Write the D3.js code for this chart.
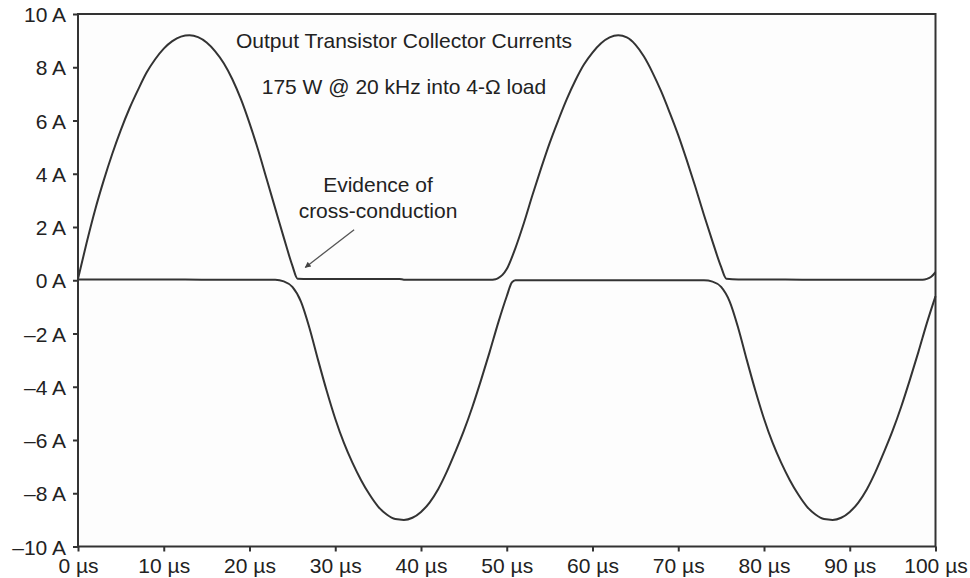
<!DOCTYPE html>
<html>
<head>
<meta charset="utf-8">
<script src="https://cdn.jsdelivr.net/npm/d3@7"></script>
<style>
  html, body { margin: 0; padding: 0; background: #ffffff; }
  svg { display: block; }
  text { font-family: "Liberation Sans", Arial, Helvetica, sans-serif; fill: #222; }
</style>
</head>
<body>
<svg id="chart" width="970" height="578"></svg>
<script>
// ---- Data ----
const xTickValues = [0, 10, 20, 30, 40, 50, 60, 70, 80, 90, 100];
const xTickLabels = ["0 µs", "10 µs", "20 µs", "30 µs", "40 µs", "50 µs", "60 µs", "70 µs", "80 µs", "90 µs", "100 µs"];
const yTickValues = [-10, -8, -6, -4, -2, 0, 2, 4, 6, 8, 10];
const yTickLabels = ["–10 A", "–8 A", "–6 A", "–4 A", "–2 A", "0 A", "2 A", "4 A", "6 A", "8 A", "10 A"];

// Upper transistor collector current (A) vs time (µs)
const upperTime = [0, 1, 2, 3, 4, 5, 6, 7, 8, 9, 10, 11, 12, 13, 14, 15, 16, 17, 18, 19, 20, 21, 22, 23, 24, 25, 25.6,
  27, 30, 35, 37.5, 38, 42, 45, 48, 48.7, 49, 49.5, 50, 51, 52, 53, 54, 55, 56, 57, 58, 59, 60, 61, 62, 63,
  64, 65, 66, 67, 68, 69, 70, 71, 72, 73, 74, 75, 75.6, 77, 80, 85, 90, 95, 98.5, 99, 99.5, 100];
const upperCurrent = [0.05, 1.4, 2.65, 3.75, 4.75, 5.65, 6.45, 7.15, 7.8, 8.3, 8.7, 8.98, 9.15, 9.2, 9.13, 8.93, 8.6, 8.15, 7.55, 6.8, 5.9, 4.9, 3.8, 2.7, 1.6, 0.55, 0.06,
  0.05, 0.05, 0.05, 0.05, 0.02, 0.02, 0.02, 0.02, 0.04, 0.08, 0.2, 0.42, 1.2, 2.15, 3.2, 4.2, 5.15, 6.0, 6.8, 7.5, 8.1, 8.55, 8.9, 9.12, 9.2,
  9.12, 8.85, 8.4, 7.8, 7.1, 6.3, 5.45, 4.5, 3.5, 2.45, 1.45, 0.5, 0.06, 0.03, 0.03, 0.02, 0.02, 0.02, 0.02, 0.05, 0.13, 0.3];

// Lower transistor collector current (A) vs time (µs)
const lowerTime = [0, 5, 10, 15, 20, 23, 24, 25, 26, 27, 28, 29, 30, 31, 32, 33, 34, 35, 36, 37, 38, 39, 40, 41, 42, 43, 44, 45, 46, 47, 48, 49, 50, 50.6,
  51, 55, 60, 65, 70, 73, 74, 75, 76, 77, 78, 79, 80, 81, 82, 83, 84, 85, 86, 87, 88, 89, 90, 91, 92, 93, 94, 95, 96, 97, 98, 99, 100];
const lowerCurrent = [0.03, 0.03, 0.03, 0.02, 0.02, 0.02, -0.04, -0.25, -0.8, -1.8, -3.0, -4.15, -5.2, -6.1, -6.85, -7.5, -8.05, -8.5, -8.8, -8.97, -9.0, -8.92, -8.7, -8.35, -7.85, -7.2, -6.45, -5.65, -4.75, -3.75, -2.7, -1.6, -0.6, -0.08,
  0.0, 0.0, 0.0, 0.0, 0.0, 0.0, -0.05, -0.25, -0.8, -1.8, -3.0, -4.15, -5.2, -6.1, -6.85, -7.5, -8.05, -8.5, -8.8, -8.97, -9.0, -8.92, -8.7, -8.35, -7.85, -7.2, -6.45, -5.65, -4.75, -3.75, -2.7, -1.6, -0.6];

const titleLines = ["Output Transistor Collector Currents", "175 W @ 20 kHz into 4-Ω load"];
const noteLines = ["Evidence of", "cross-conduction"];
// annotation arrow: from (µs, A) to (µs, A)
const arrowFrom = [32.2, 1.9];
const arrowTo = [26.5, 0.48];

// ---- Drawing ----
const svg = d3.select("#chart");
const mLeft = 78, mRight = 935.5, mTop = 14, mBottom = 546.5;
const x = d3.scaleLinear().domain([0, 100]).range([mLeft, mRight]);
const y = d3.scaleLinear().domain([-10, 10]).range([mBottom, mTop]);

svg.append("rect").attr("x", mLeft).attr("y", mTop)
  .attr("width", mRight - mLeft).attr("height", mBottom - mTop)
  .attr("fill", "#fdfdfd");

const line = d3.line().x(d => x(d[0])).y(d => y(d[1])).curve(d3.curveMonotoneX);

const upper = upperTime.map((t, i) => [t, upperCurrent[i]]);
const lower = lowerTime.map((t, i) => [t, lowerCurrent[i]]);

svg.append("path").datum(lower).attr("d", line)
  .attr("fill", "none").attr("stroke", "#333").attr("stroke-width", 2).attr("stroke-linejoin", "round");
svg.append("path").datum(upper).attr("d", line)
  .attr("fill", "none").attr("stroke", "#333").attr("stroke-width", 2).attr("stroke-linejoin", "round");

// frame
svg.append("rect").attr("x", mLeft).attr("y", mTop)
  .attr("width", mRight - mLeft).attr("height", mBottom - mTop)
  .attr("fill", "none").attr("stroke", "#333").attr("stroke-width", 2);

const xAxis = d3.axisBottom(x).tickValues(xTickValues)
  .tickFormat((d, i) => xTickLabels[i]).tickSize(5).tickSizeOuter(0).tickPadding(7);
const gx = svg.append("g").attr("transform", `translate(0,${mBottom})`).call(xAxis);
gx.select(".domain").remove();
gx.selectAll("line").attr("stroke", "#333").attr("stroke-width", 2);
gx.selectAll("text").attr("font-size", 21).attr("fill", "#222")
  .attr("font-family", '"Liberation Sans", Arial, sans-serif');

const yAxis = d3.axisLeft(y).tickValues(yTickValues)
  .tickFormat((d, i) => yTickLabels[i]).tickSize(5).tickSizeOuter(0).tickPadding(7);
const gy = svg.append("g").attr("transform", `translate(${mLeft},0)`).call(yAxis);
gy.select(".domain").remove();
gy.selectAll("line").attr("stroke", "#333").attr("stroke-width", 2);
gy.selectAll("text").attr("font-size", 21).attr("fill", "#222").attr("dy", "0.36em")
  .attr("font-family", '"Liberation Sans", Arial, sans-serif');

// title annotations
svg.append("text").attr("x", 404).attr("y", 48).attr("text-anchor", "middle")
  .attr("font-size", 21).text(titleLines[0]);
svg.append("text").attr("x", 404).attr("y", 94).attr("text-anchor", "middle")
  .attr("font-size", 21).text(titleLines[1]);

svg.append("text").attr("x", 378).attr("y", 192).attr("text-anchor", "middle")
  .attr("font-size", 21).text(noteLines[0]);
svg.append("text").attr("x", 378).attr("y", 218).attr("text-anchor", "middle")
  .attr("font-size", 21).text(noteLines[1]);

// arrow
svg.append("defs").append("marker").attr("id", "ah")
  .attr("viewBox", "0 0 10 10").attr("refX", 9).attr("refY", 5)
  .attr("markerWidth", 10).attr("markerHeight", 6).attr("markerUnits", "userSpaceOnUse")
  .attr("orient", "auto")
  .append("path").attr("d", "M0,0 L10,5 L0,10 Z").attr("fill", "#444");
svg.append("line")
  .attr("x1", x(arrowFrom[0])).attr("y1", y(arrowFrom[1]))
  .attr("x2", x(arrowTo[0])).attr("y2", y(arrowTo[1]))
  .attr("stroke", "#555").attr("stroke-width", 1.3).attr("marker-end", "url(#ah)");
</script>
</body>
</html>
